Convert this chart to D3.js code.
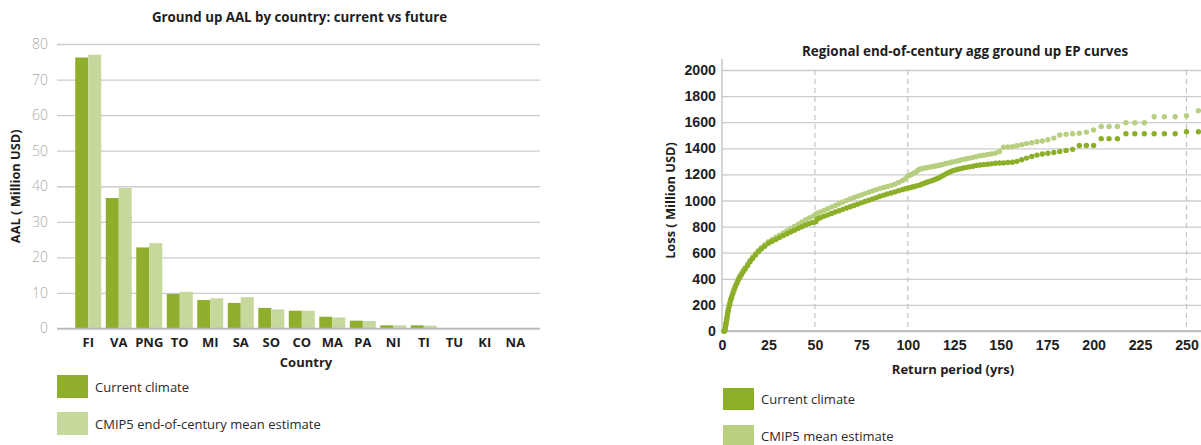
<!DOCTYPE html>
<html><head><meta charset="utf-8">
<script src="https://cdn.jsdelivr.net/npm/d3@7"></script>
<style>
html,body{margin:0;padding:0;background:#fff;}
svg{display:block;font-family:"Open Sans","Noto Sans",sans-serif;}
</style></head>
<body>
<svg id="c" width="1201" height="445"></svg>
<script>
// ---------- Data: left chart ----------
const countries = ["FI","VA","PNG","TO","MI","SA","SO","CO","MA","PA","NI","TI","TU","KI","NA"];
const aalCurrent = [76.2,36.7,22.8,9.7,8.0,7.2,5.8,5.0,3.3,2.2,0.9,0.9,0,0,0];
const aalFuture  = [77.0,39.5,24.0,10.3,8.5,8.8,5.35,5.0,3.1,2.1,0.9,0.8,0,0,0];
const aalTicks = [0,10,20,30,40,50,60,70,80];
const barSeries = ["Current climate","CMIP5 end-of-century mean estimate"];

// ---------- Data: right chart ----------
const returnPeriods = [1.0,1.3,1.6,1.8,2.0,2.2,2.5,2.8,3.1,3.4,
3.8,4.2,4.7,5.2,5.8,6.5,7.2,8.0,8.8,9.6,
10.5,11.5,12.5,13.8,15.1,16.5,18,19.6,21.2,23,
25,27,29,31,33,35,37,39,41,43,
45,47,49,50.5,51.5,53,55,57,59,61,
63,65,67,69,71,73,75,77,79,81,
83,85,87,89,91,93,95,97,98.5,
100,101.0,102.0,103.1,104.2,105.3,106.4,107.5,108.7,109.9,
111.1,112.4,113.6,114.9,116.3,117.6,119.0,120.5,122.0,123.5,
125.0,126.6,128.2,129.9,131.6,133.3,135.1,137.0,138.9,140.8,
142.9,144.9,147.1,149.3,151.5,153.8,156.3,158.7,161.3,163.9,
166.7,169.5,172.4,175.4,178.6,181.8,185.2,188.7,192.3,196.1,
200.0,204.1,208.3,212.8,217.4,222.2,227.3,232.6,238.1,243.9,
250.0,256.4];
const lossCurrent = [0,0,5,25,45,62,84,112,138,161,
185,208,237,258,285,314,340,365,391,412,
432,455,475,502,531,556,582,608,628,650,
672,688,702,716,731,745,759,772,785,799,
812,823,832,838,860,868,880,890,901,912,
922,932,942,952,962,972,982,992,1002,1012,
1022,1032,1041,1050,1058,1066,1075,1083,1090,
1095,1098,1102,1106,1110,1114,1118,1124,1131,1138,
1144,1150,1156,1163,1171,1180,1192,1204,1214,1224,
1232,1238,1244,1249,1254,1258,1263,1268,1272,1275,
1278,1281,1285,1287,1288,1292,1293,1300,1312,1325,
1337,1348,1356,1362,1368,1376,1384,1392,1422,1422,
1422,1474,1474,1474,1512,1512,1512,1512,1512,1512,
1527,1527];
const lossFuture = [0,0,8,30,50,68,90,118,145,168,
193,216,245,267,294,322,348,374,400,421,
442,465,486,513,542,567,593,618,640,662,
685,702,719,735,751,768,785,801,818,836,
852,866,880,895,902,912,925,937,950,962,
975,988,1000,1012,1023,1033,1043,1053,1063,1073,
1083,1092,1100,1108,1116,1125,1138,1152,1165,
1188,1193,1200,1208,1216,1230,1240,1244,1248,1251,
1254,1258,1261,1264,1268,1272,1277,1283,1288,1293,
1298,1303,1309,1315,1320,1325,1330,1337,1343,1347,
1352,1357,1363,1375,1408,1410,1412,1420,1428,1436,
1443,1450,1456,1466,1478,1502,1507,1511,1516,1524,
1540,1568,1568,1568,1596,1596,1596,1642,1642,1642,
1650,1688];
const rpTicks = [0,25,50,75,100,125,150,175,200,225,250];
const rpDashed = [50,100,250];
const lossTicks = [0,200,400,600,800,1000,1200,1400,1600,1800,2000];
const epSeries = ["Current climate","CMIP5 mean estimate"];

// ---------- Styles ----------
const DARK_BAR = "#8fae2c", LIGHT_BAR = "#c6d89c";
const DARK_PT = "#8caf28", LIGHT_PT = "#b7cf7e";
const GRID = "#cccccc";

const svg = d3.select("#c");

// ================= LEFT: bar chart =================
(function(){
  const L = {x0:57, x1:540, y0:328.5, y1:44};
  const x = d3.scaleBand().domain(countries).range([L.x0, L.x1])
    .paddingInner(0.148).paddingOuter(0.49).align(0.61);
  const xs = d3.scaleBand().domain([0,1]).range([0, x.bandwidth()]);
  const y = d3.scaleLinear().domain([0,80]).range([L.y0, L.y1]);
  const g = svg.append("g");

  const ya = g.append("g").attr("transform",`translate(${L.x0},0)`)
    .call(d3.axisLeft(y).tickValues(aalTicks).tickSize(-(L.x1-L.x0)).tickPadding(9));
  ya.select(".domain").remove();
  ya.selectAll(".tick line").attr("stroke",GRID).attr("stroke-width",1.3);
  ya.selectAll(".tick text").attr("fill","#ababab").attr("font-size",14)
    .attr("font-family","Open Sans, sans-serif").attr("font-weight",300);

  const rows = countries.map((c,i)=>({c, v:[aalCurrent[i], aalFuture[i]]}));
  const grp = g.selectAll(".grp").data(rows).join("g")
    .attr("transform",d=>`translate(${x(d.c)},0)`);
  grp.selectAll("rect").data(d=>d.v.map((v,j)=>({v,j}))).join("rect")
    .attr("x",d=>xs(d.j)).attr("width",xs.bandwidth())
    .attr("y",d=>y(d.v)).attr("height",d=>y(0)-y(d.v))
    .attr("fill",d=>d.j===0?DARK_BAR:LIGHT_BAR);

  g.append("line").attr("x1",L.x0).attr("x2",L.x1).attr("y1",y(0)).attr("y2",y(0))
    .attr("stroke","#b9b9b9").attr("stroke-width",1.5);

  const xa = g.append("g").attr("transform",`translate(0,${L.y0})`)
    .call(d3.axisBottom(x).tickSize(0).tickPadding(9));
  xa.select(".domain").remove();
  xa.selectAll(".tick text").attr("fill","#1e1e1e").attr("font-size",13)
    .attr("font-weight",700).attr("font-family","Open Sans, sans-serif");

  g.append("text").attr("x",(L.x0+L.x1)/2+1).attr("y",22).attr("text-anchor","middle")
    .attr("font-size",13.3).attr("font-weight",700).attr("fill","#1e1e1e")
    .text("Ground up AAL by country: current vs future");
  g.append("text").attr("x",306).attr("y",367).attr("text-anchor","middle")
    .attr("font-size",13).attr("font-weight",700).attr("fill","#1e1e1e").text("Country");
  g.append("text").attr("transform",`translate(20,${(L.y0+L.y1)/2}) rotate(-90)`)
    .attr("text-anchor","middle").attr("font-size",12.8).attr("font-weight",700)
    .attr("fill","#1e1e1e").text("AAL ( Million USD)");

  const leg = g.selectAll(".leg").data(barSeries).join("g")
    .attr("transform",(d,i)=>`translate(57,${375+i*37})`);
  leg.append("rect").attr("width",31).attr("height",23)
    .attr("fill",(d,i)=>i===0?DARK_BAR:LIGHT_BAR);
  leg.append("text").attr("x",38).attr("y",16.5).attr("font-size",13)
    .attr("fill","#2a2a2a").text(d=>d);
})();

// ================= RIGHT: EP curves =================
(function(){
  const R = {x0:722, xEnd:1201, y0:331, y1:70};
  const x = d3.scaleLinear().domain([0,250]).range([722,1186.5]);
  const y = d3.scaleLinear().domain([0,2000]).range([R.y0, R.y1]);
  const g = svg.append("g");

  const ya = g.append("g").attr("transform",`translate(${R.x0},0)`)
    .call(d3.axisLeft(y).tickValues(lossTicks).tickFormat(d3.format("d"))
      .tickSize(-(R.xEnd-R.x0)).tickPadding(6));
  ya.select(".domain").remove();
  ya.selectAll(".tick line").attr("stroke",GRID).attr("stroke-width",1.3);
  ya.selectAll(".tick text").attr("fill","#1e1e1e").attr("font-size",14.2)
    .attr("font-weight",700);

  g.selectAll(".dash").data(rpDashed).join("line")
    .attr("x1",d=>x(d)).attr("x2",d=>x(d)).attr("y1",y(2000)).attr("y2",y(0))
    .attr("stroke","#c4c4c4").attr("stroke-width",1.2).attr("stroke-dasharray","5,4");

  g.append("line").attr("x1",R.x0).attr("x2",R.x0).attr("y1",59).attr("y2",R.y0)
    .attr("stroke","#bdbdbd").attr("stroke-width",1.3);
  g.append("line").attr("x1",R.x0).attr("x2",R.xEnd).attr("y1",R.y0).attr("y2",R.y0)
    .attr("stroke","#b9b9b9").attr("stroke-width",1.5);

  const xa = g.append("g").attr("transform",`translate(0,${R.y0})`)
    .call(d3.axisBottom(x).tickValues(rpTicks).tickSize(0).tickPadding(9));
  xa.select(".domain").remove();
  xa.selectAll(".tick text").attr("fill","#1e1e1e").attr("font-size",14.2).attr("font-weight",700);

  const pts = returnPeriods.map((rp,i)=>({rp, c:lossCurrent[i], f:lossFuture[i]}));
  g.append("g").selectAll("circle").data(pts).join("circle")
    .attr("cx",d=>x(d.rp)).attr("cy",d=>y(d.f)).attr("r",2.7).attr("fill",LIGHT_PT);
  g.append("g").selectAll("circle").data(pts).join("circle")
    .attr("cx",d=>x(d.rp)).attr("cy",d=>y(d.c)).attr("r",2.7).attr("fill",DARK_PT);

  g.append("text").attr("x",965).attr("y",56).attr("text-anchor","middle")
    .attr("font-size",13.4).attr("font-weight",700).attr("fill","#1e1e1e")
    .text("Regional end-of-century agg ground up EP curves");
  g.append("text").attr("x",953).attr("y",374).attr("text-anchor","middle")
    .attr("font-size",13).attr("font-weight",700).attr("fill","#1e1e1e").text("Return period (yrs)");
  g.append("text").attr("transform",`translate(675,${(R.y0+R.y1)/2}) rotate(-90)`)
    .attr("text-anchor","middle").attr("font-size",12.8).attr("font-weight",700)
    .attr("fill","#1e1e1e").text("Loss ( Million USD)");

  const leg = g.selectAll(".leg").data(epSeries).join("g")
    .attr("transform",(d,i)=>`translate(723,${388+i*37})`);
  leg.append("rect").attr("width",31).attr("height",22)
    .attr("fill",(d,i)=>i===0?DARK_PT:LIGHT_PT);
  leg.append("text").attr("x",38).attr("y",16).attr("font-size",13)
    .attr("fill","#2a2a2a").text(d=>d);
})();
</script>
</body></html>
